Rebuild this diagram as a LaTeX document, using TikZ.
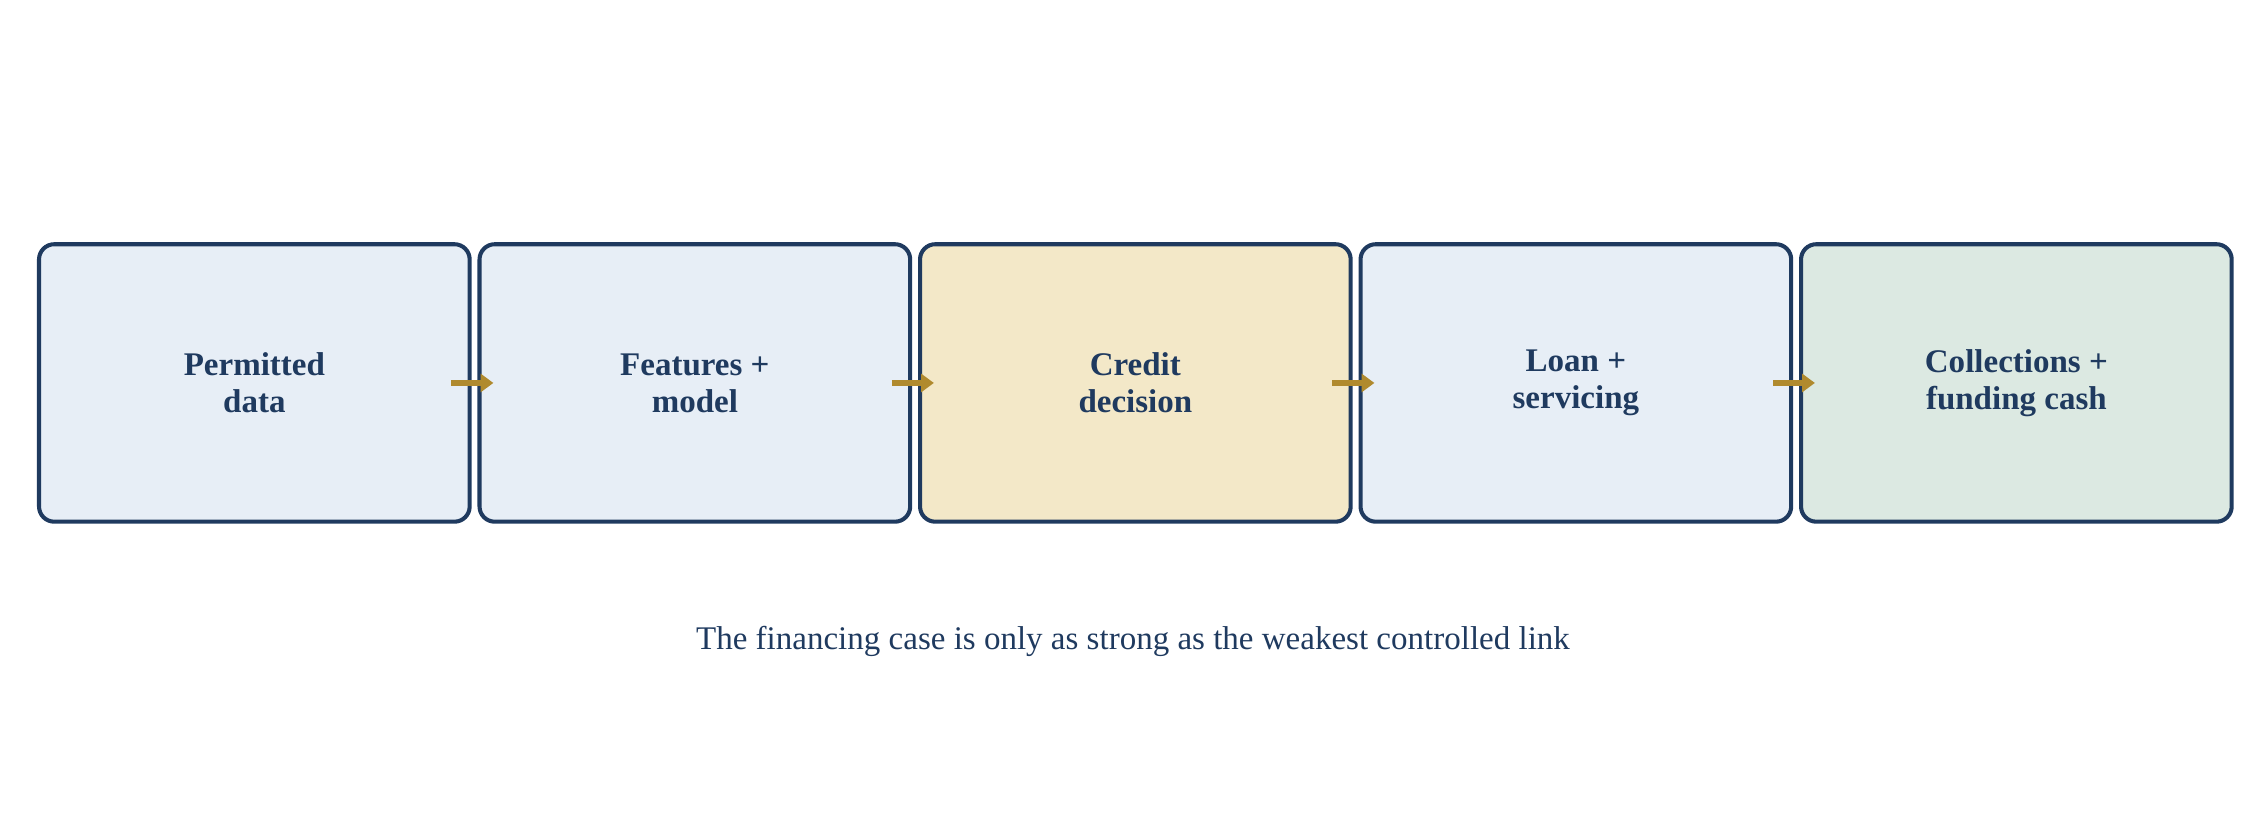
\documentclass[tikz,border=0pt]{standalone}
\usepackage{fontspec}
\setmainfont{Liberation Serif}
\usetikzlibrary{positioning,arrows.meta}
\definecolor{navy}{HTML}{1F3A5F}
\definecolor{paleblue}{HTML}{E7EEF6}
\definecolor{palegold}{HTML}{F3E8C8}
\definecolor{palegreen}{HTML}{DCE9E2}
\definecolor{gold}{HTML}{B08A2E}
\begin{document}
\begin{tikzpicture}[
	stage/.style={draw=navy, line width=1.6pt, rounded corners=6pt, fill=paleblue, minimum width=5.96cm, minimum height=3.84cm, align=center, text=navy, font=\fontsize{13}{14.5}\selectfont\bfseries},
	link/.style={gold, line width=2.4pt, -{Triangle[length=5pt,width=7pt]}},
	node distance=0.08cm
	]
	\useasboundingbox (0,0) rectangle (31.36,11.26);
	
	\node[stage] (data) at (3.52,5.96) {Permitted\\data};
	\node[stage, right=of data] (model) {Features +\\model};
	\node[stage, right=of model, fill=palegold] (decision) {Credit\\decision}; % highlighted
	\node[stage, right=of decision] (loan) {Loan +\\servicing};
	\node[stage, right=of loan, fill=palegreen] (cash) {Collections +\\funding cash};
	
	\draw[link] ([xshift=-0.28cm]data.east) -- ([xshift=0.22cm]model.west);
	\draw[link] ([xshift=-0.28cm]model.east) -- ([xshift=0.22cm]decision.west);
	\draw[link] ([xshift=-0.28cm]decision.east) -- ([xshift=0.22cm]loan.west);
	\draw[link] ([xshift=-0.28cm]loan.east) -- ([xshift=0.22cm]cash.west);
	
	\node[text=navy, font=\fontsize{13}{15}\selectfont] (note) at (15.68,2.38) {The financing case is only as strong as the weakest controlled link};
\end{tikzpicture}
\end{document}
